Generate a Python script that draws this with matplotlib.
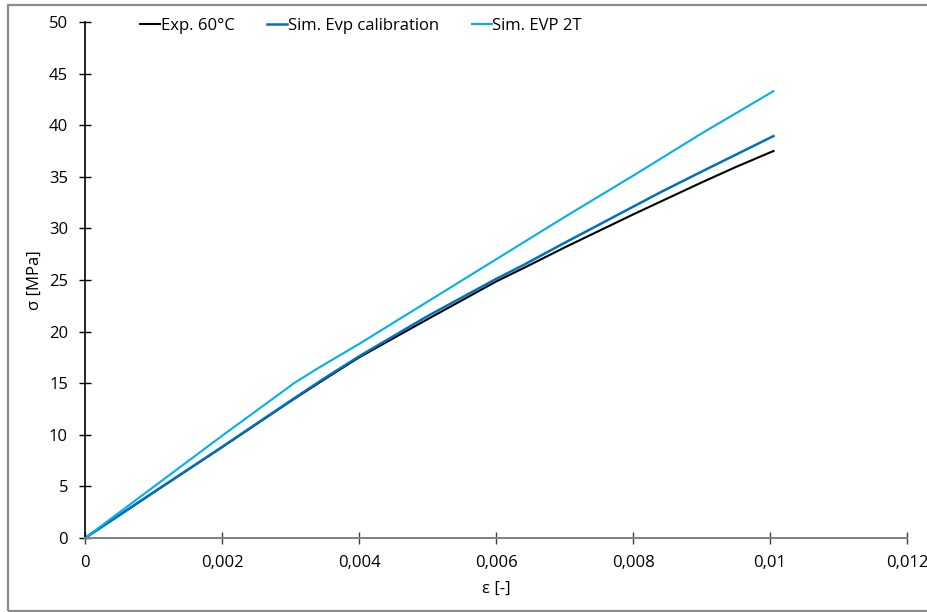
import numpy as np
import matplotlib
matplotlib.use('Agg')
import matplotlib.pyplot as plt
from matplotlib.patches import Rectangle
from matplotlib.ticker import FuncFormatter, MultipleLocator

# strain [-] / stress [MPa]
exp_strain = [0, 0.001, 0.002, 0.003, 0.0035, 0.004, 0.005, 0.006, 0.0064, 0.007, 0.0075,
              0.008, 0.0085, 0.009, 0.0095, 0.01005]
exp_stress = [0, 4.42, 8.8, 13.25, 15.4, 17.5, 21.2, 24.85, 26.15, 28.15, 29.75,
              31.35, 32.9, 34.45, 35.95, 37.5]

cal_strain = [0, 0.001, 0.002, 0.003, 0.0035, 0.004, 0.005, 0.006, 0.0064, 0.007, 0.008,
              0.0084, 0.009, 0.01005]
cal_stress = [0, 4.42, 8.82, 13.3, 15.5, 17.6, 21.5, 25.1, 26.45, 28.6, 32.1,
              33.5, 35.5, 38.95]

evp_strain = [0, 0.001, 0.002, 0.003, 0.00305, 0.0034, 0.004, 0.005, 0.006, 0.007, 0.008,
              0.009, 0.01005]
evp_stress = [0, 4.95, 9.9, 14.75, 15.0, 16.45, 18.8, 22.9, 27.0, 31.1, 35.1,
              39.2, 43.3]

plt.rcParams['font.family'] = ['Open Sans', 'DejaVu Sans']
plt.rcParams['font.size'] = 12

fig = plt.figure(figsize=(9.28, 6.12), dpi=100)
ax = fig.add_axes([0.0916, 0.1209, 0.8858, 0.8431])

ax.plot(exp_strain, exp_stress, color='#000000', lw=1.5, label='Exp. 60°C')
ax.plot(cal_strain, cal_stress, color='#0070C0', lw=1.8, label='Sim. Evp calibration')
ax.plot(evp_strain, evp_stress, color='#00B0F0', lw=1.5, label='Sim. EVP 2T')

ax.set_xlim(0, 0.012)
ax.set_ylim(0, 50)
ax.xaxis.set_major_locator(MultipleLocator(0.002))
ax.yaxis.set_major_locator(MultipleLocator(5))
ax.xaxis.set_major_formatter(FuncFormatter(lambda v, p: '{:g}'.format(round(v, 4)).replace('.', ',')))

for s in ['top', 'right']:
    ax.spines[s].set_visible(False)
ax.spines['left'].set_color('#000000')
ax.spines['bottom'].set_color('#808080')
ax.spines['left'].set_linewidth(1.2)
ax.spines['bottom'].set_linewidth(1.4)

ax.tick_params(axis='y', direction='inout', length=8.5, width=1.0, color='#000000', pad=8, labelsize=12)
ax.tick_params(axis='x', direction='inout', length=8, width=1.0, color='#404040', pad=8, labelsize=12)

ax.set_ylabel('σ [MPa]', fontsize=12, labelpad=4)
ax.set_xlabel('ε [-]', fontsize=12, labelpad=7)

fig.legend(loc='center', bbox_to_anchor=(0.389, 0.9575), ncol=3, frameon=False,
           handlelength=1.2, handletextpad=0.05, columnspacing=1.95, fontsize=12)

# chart border
fig.patches.append(Rectangle((8 / 928, 1 / 612), 1.2, 606 / 612, transform=fig.transFigure,
                             fill=False, edgecolor='#8c8c8c', lw=1.6, clip_on=False))

plt.savefig('out.png', dpi=100)
plt.close()
